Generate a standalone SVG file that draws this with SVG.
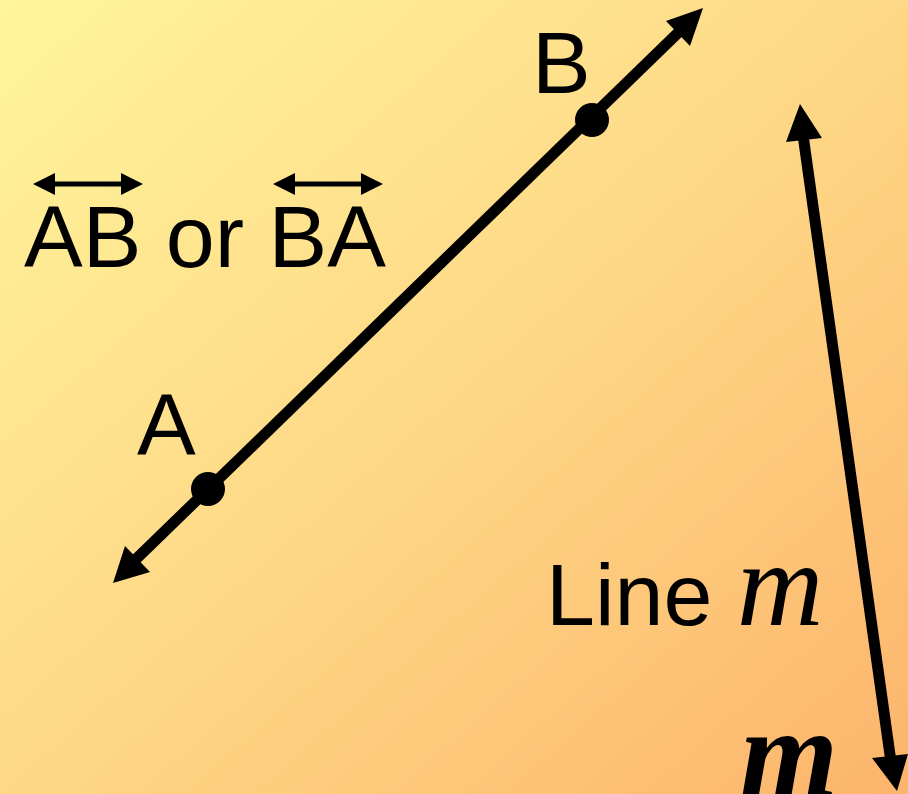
<svg xmlns="http://www.w3.org/2000/svg" width="908" height="794" viewBox="0 0 908 794">
<defs>
<linearGradient id="bg" x1="0" y1="0" x2="1" y2="1">
<stop offset="0" stop-color="#FFF59C"/>
<stop offset="0.5" stop-color="#FED886"/>
<stop offset="1" stop-color="#FCB46C"/>
</linearGradient>
</defs>
<style>
.t{font-family:"Liberation Sans","DejaVu Sans",sans-serif;fill:#000}
.ln{stroke:#000;stroke-width:11;fill:none}
.hd{fill:#000}
.sm{stroke:#000;stroke-width:5;fill:none}
</style>
<rect width="908" height="794" fill="url(#bg)"/>
<g id="connectors">
<g id="lineAB">
<line class="ln" x1="132" y1="563" x2="683" y2="28"/>
<polygon class="hd" points="113,583 125,546 150,572"/>
<polygon class="hd" points="703,8 666,21 690,46"/>
</g>
<g id="lineM">
<line class="ln" x1="803" y1="135" x2="891" y2="762"/>
<polygon class="hd" points="800,104 786,142 822,138"/>
<polygon class="hd" points="897,791 872,758 908,754"/>
</g>
</g>
<g id="pointA"><circle cx="208" cy="489" r="17" fill="#000"/><text class="t" x="137" y="455" font-size="88">A</text></g>
<g id="pointB"><circle cx="592" cy="120" r="17" fill="#000"/><text class="t" x="532" y="93" font-size="88">B</text></g>
<g id="notation">
<text class="t" x="24" y="267" font-size="88">AB or BA</text>
<line class="sm" x1="45" y1="184" x2="131" y2="184"/>
<polygon class="hd" points="33,184 55,173 55,195"/>
<polygon class="hd" points="143,184 121,173 121,195"/>
<line class="sm" x1="285" y1="184" x2="371" y2="184"/>
<polygon class="hd" points="273,184 295,173 295,195"/>
<polygon class="hd" points="383,184 361,173 361,195"/>
</g>
<g id="labelLineM">
<text class="t" x="546" y="625" font-size="88">Line <tspan font-family="'Liberation Serif','DejaVu Serif',serif" font-style="italic" font-size="120">m</tspan></text>
</g>
<g id="labelM">
<text x="740" y="796" font-family="'Liberation Serif','DejaVu Serif',serif" font-style="italic" font-weight="bold" font-size="126" fill="#000">m</text>
</g>
</svg>
